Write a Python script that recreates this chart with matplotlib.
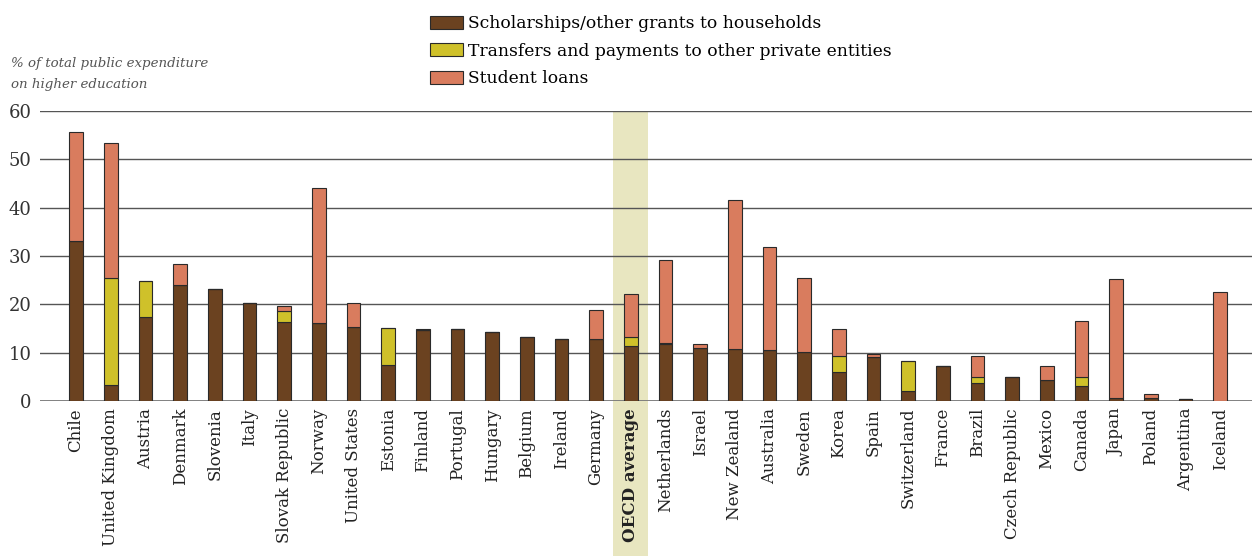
import numpy as np
import matplotlib.pyplot as plt
from matplotlib.patches import Rectangle

plt.rcParams['font.family'] = 'serif'
plt.rcParams['font.serif'] = ['DejaVu Serif', 'Liberation Serif']

countries = ['Chile', 'United Kingdom', 'Austria', 'Denmark', 'Slovenia', 'Italy',
             'Slovak Republic', 'Norway', 'United States', 'Estonia', 'Finland',
             'Portugal', 'Hungary', 'Belgium', 'Ireland', 'Germany', 'OECD average',
             'Netherlands', 'Israel', 'New Zealand', 'Australia', 'Sweden', 'Korea',
             'Spain', 'Switzerland', 'France', 'Brazil', 'Czech Republic', 'Mexico',
             'Canada', 'Japan', 'Poland', 'Argentina', 'Iceland']

scholarships = [33.2, 3.4, 17.4, 23.9, 23.2, 20.2, 16.4, 16.2, 15.4, 7.4, 14.7,
                14.9, 14.3, 13.2, 12.8, 12.8, 11.3, 11.8, 10.9, 10.8, 10.6, 10.1,
                5.9, 9.2, 2.1, 7.3, 3.7, 4.9, 4.3, 3.1, 0.6, 0.6, 0.5, 0.0]
transfers = [0.0, 22.1, 7.4, 0.0, 0.0, 0.0, 2.2, 0.0, 0.0, 7.7, 0.0,
             0.0, 0.0, 0.0, 0.0, 0.0, 1.9, 0.2, 0.0, 0.0, 0.0, 0.0,
             3.4, 0.0, 6.2, 0.0, 1.3, 0.0, 0.0, 1.9, 0.0, 0.0, 0.0, 0.0]
loans = [22.5, 27.8, 0.0, 4.4, 0.0, 0.0, 1.1, 27.9, 4.9, 0.0, 0.2,
         0.0, 0.0, 0.0, 0.0, 6.1, 8.9, 17.2, 0.8, 30.8, 21.3, 15.3,
         5.5, 0.6, 0.0, 0.0, 4.4, 0.0, 2.9, 11.5, 24.7, 0.9, 0.0, 22.5]

brown = '#6b4220'
yellow = '#cfc12a'
salmon = '#d97c5e'

x = np.arange(len(countries))
sch = np.array(scholarships)
tra = np.array(transfers)
loa = np.array(loans)

fig = plt.figure(figsize=(12.52, 5.56), dpi=100)
ax = fig.add_axes([0.032, 0.2788, 0.968, 0.5216])

# highlight band for the OECD average, running down behind its label
oecd = countries.index('OECD average')
ax.add_patch(Rectangle((oecd - 0.5, -40), 1.0, 100, color='#e8e6c0',
                       zorder=0, clip_on=False, lw=0))

for v in range(0, 70, 10):
    ax.axhline(v, color='#555555' if v else '#777777', lw=1.3 if v == 0 else 1.0, zorder=1)

w = 0.4
ec = '#2a2a2a'
ax.bar(x, sch, w, color=brown, edgecolor=ec, lw=0.8, zorder=3,
       label='Scholarships/other grants to households')
ax.bar(x, tra, w, bottom=sch, color=yellow, edgecolor=ec, lw=0.8, zorder=3,
       label='Transfers and payments to other private entities')
ax.bar(x, loa, w, bottom=sch + tra, color=salmon, edgecolor=ec, lw=0.8, zorder=3,
       label='Student loans')

ax.set_xlim(-1.04, len(countries) - 0.08)
ax.set_ylim(0, 60)
ax.set_yticks(range(0, 70, 10))
ax.tick_params(axis='y', length=0, labelsize=13, colors='#333333', pad=6)
ax.tick_params(axis='x', length=0, pad=5)
ax.set_xticks(x)
ax.set_xticklabels(countries, rotation=90, fontsize=12, color='#222222')
for lab in ax.get_xticklabels():
    if lab.get_text() == 'OECD average':
        lab.set_fontweight('bold')
for s in ax.spines.values():
    s.set_visible(False)

fig.text(0.009, 0.867, '% of total public expenditure\non higher education', fontsize=9.6,
         style='italic', color='#555555', va='center', ha='left', linespacing=1.75)

fig.legend(loc='upper left', bbox_to_anchor=(0.334, 0.994), frameon=False, fontsize=12.3,
           handlelength=1.9, handleheight=0.8, handletextpad=0.3, labelspacing=0.62,
           borderaxespad=0.3)

fig.savefig('out.png', dpi=100)
